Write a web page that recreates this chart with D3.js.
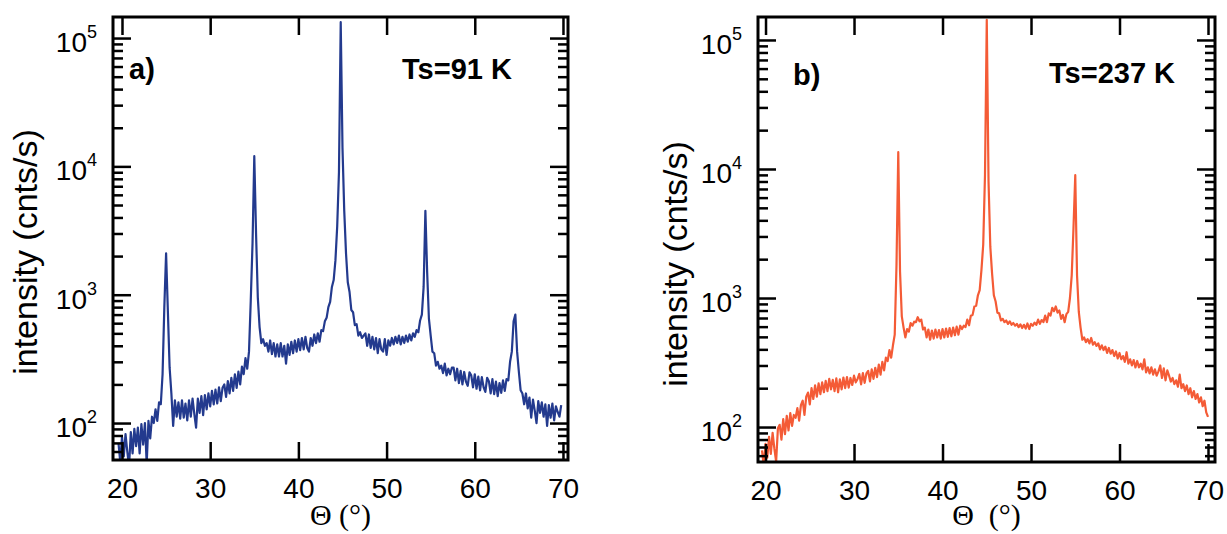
<!DOCTYPE html>
<html lang="en">
<head>
<meta charset="utf-8" />
<title>XRD scans</title>
<script src="https://cdn.jsdelivr.net/npm/d3@7"></script>
<style>
  body { margin: 0; background: #ffffff; }
  svg { display: block; background: #ffffff; }
  .tick line { stroke: #000; stroke-width: 2.5; }
  .domain { display: none; }
  .tick text { font-family: "Liberation Sans", Arial, sans-serif; font-size: 28px; fill: #000; }
  .frame { fill: none; stroke: #000; stroke-width: 3; }
  .ylab { font-family: "Liberation Sans", Arial, sans-serif; font-size: 28px; fill: #000; }
  .ytitle { font-family: "Liberation Sans", Arial, sans-serif; font-size: 34px; fill: #000; }
  .xtitle { font-family: "Liberation Serif", "Times New Roman", serif; font-size: 30px; fill: #000; }
  .tag { font-family: "Liberation Sans", Arial, sans-serif; font-size: 29px; font-weight: bold; fill: #000; }
</style>
</head>
<body>
<svg width="1227" height="534"></svg>
<script>

// scan grid (degrees)
var scanStart = 19.6, scanStep = 0.2;

// panel a, Ts = 91 K  (cnts/s, one value per scan step)
var intensityA = [
  70, 50, 78, 55, 82, 60, 46, 85, 58, 90,
  66, 92, 58, 98, 68, 100, 48, 104, 76, 112,
  100, 128, 104, 145, 140, 240, 800, 2100, 750, 270,
  170, 95, 150, 112, 145, 108, 150, 110, 142, 105,
  150, 112, 155, 118, 92, 155, 120, 162, 115, 165,
  128, 170, 135, 178, 140, 182, 142, 190, 148, 188,
  200, 160, 212, 170, 225, 178, 240, 188, 252, 200,
  275, 240, 320, 265, 360, 900, 2500, 12000, 3000, 950,
  560, 420, 450, 400, 420, 360, 440, 345, 420, 330,
  410, 330, 420, 330, 400, 290, 410, 340, 430, 350,
  440, 360, 450, 370, 460, 375, 470, 385, 360, 460,
  400, 490, 420, 500, 430, 530, 520, 620, 660, 800,
  880, 1150, 1300, 1850, 3400, 9000, 133000, 14000, 4500, 2100,
  1250, 1050, 760, 730, 580, 590, 480, 510, 460, 480,
  500, 400, 490, 385, 470, 375, 460, 350, 450, 375,
  360, 450, 340, 440, 400, 460, 410, 470, 420, 480,
  410, 470, 420, 480, 430, 490, 440, 500, 470, 530,
  510, 630, 700, 1150, 4500, 1500, 650, 480, 360, 350,
  280, 300, 265, 280, 245, 290, 235, 265, 240, 270,
  270, 215, 265, 205, 255, 200, 250, 210, 195, 248,
  235, 190, 240, 185, 230, 180, 228, 190, 175, 225,
  212, 170, 220, 168, 210, 162, 205, 172, 215, 178,
  220, 215, 300, 360, 620, 700, 360, 250, 180, 170,
  140, 170, 130, 158, 110, 152, 125, 100, 148, 120,
  145, 112, 140, 95, 138, 110, 142, 105, 135, 122,
  112, 138
];

// panel b, Ts = 237 K
var intensityB = [
  66, 50, 74, 58, 84, 62, 90, 68, 54, 98,
  104, 80, 115, 88, 122, 94, 128, 102, 124, 118,
  140, 112, 148, 160, 124, 172, 185, 150, 200, 165,
  210, 172, 218, 180, 222, 186, 228, 190, 236, 196,
  232, 190, 238, 186, 234, 196, 242, 200, 244, 202,
  240, 212, 250, 222, 236, 258, 214, 262, 220, 260,
  272, 226, 280, 236, 288, 244, 305, 255, 320, 275,
  345, 325, 395, 345, 430, 520, 1800, 13500, 1600, 720,
  590, 495, 575, 550, 640, 610, 655, 650, 710, 660,
  680, 570, 590, 495, 570, 475, 560, 485, 570, 495,
  565, 485, 575, 495, 580, 500, 585, 505, 590, 515,
  600, 520, 610, 575, 610, 595, 680, 615, 730, 740,
  860, 870, 1050, 1150, 1650, 2600, 9000, 143000, 8000, 2500,
  1550, 1050, 940, 770, 760, 670, 690, 650, 670, 630,
  660, 620, 640, 610, 630, 595, 625, 585, 620, 580,
  635, 575, 630, 610, 645, 620, 680, 630, 675, 650,
  730, 650, 760, 730, 840, 790, 860, 770, 800, 690,
  740, 650, 750, 780, 1000, 1500, 3500, 8950, 1500, 780,
  590, 475, 495, 455, 480, 445, 490, 435, 455, 425,
  445, 400, 430, 395, 420, 375, 410, 370, 395, 355,
  385, 340, 375, 335, 355, 320, 380, 310, 335, 300,
  330, 290, 325, 290, 310, 280, 335, 265, 290, 260,
  290, 255, 280, 250, 270, 300, 240, 285, 230, 275,
  250, 225, 240, 215, 230, 205, 255, 200, 215, 190,
  210, 180, 200, 170, 190, 165, 180, 155, 170, 145,
  160, 130, 120
];

var xTicks = [20, 30, 40, 50, 60, 70];
var decades = [100, 1000, 10000, 100000];
var panelTags = ["a)", "b)"];
var tempLabels = ["Ts=91 K", "Ts=237 K"];
var xTitles = ["\u0398 (\u00b0)", "\u0398\u00a0 (\u00b0)"];
var yTitle = "intensity (cnts/s)";
var colors = ["#233a8e", "#f45b36"];

var svg = d3.select("svg");

// layout of the two panels
var layouts = [
  { id: "a", left: 113, right: 568, top: 17, bottom: 460,
    xDomain: [18.98, 70.57], yDomain: [Math.pow(10, 1.712), Math.pow(10, 5.164)],
    tagX: 129, tagY: 79, tempX: 402, tempY: 79, yTitleX: 37, yTitleY: 252, xTitleY: 525 },
  { id: "b", left: 758, right: 1215, top: 17, bottom: 462,
    xDomain: [19.15, 70.79], yDomain: [Math.pow(10, 1.729), Math.pow(10, 5.178)],
    tagX: 793, tagY: 85, tempX: 1049, tempY: 83, yTitleX: 687, yTitleY: 264, xTitleY: 525 }
];

function drawPanel(k, values) {
  var L = layouts[k];
  var x = d3.scaleLinear().domain(L.xDomain).range([L.left, L.right]);
  var y = d3.scaleLog().domain(L.yDomain).range([L.bottom, L.top]);
  var minor = y.ticks().filter(function(v) { return decades.indexOf(v) < 0; });

  var g = svg.append("g");

  g.append("clipPath").attr("id", "clip-" + L.id)
    .append("rect")
    .attr("x", L.left).attr("y", L.top)
    .attr("width", L.right - L.left).attr("height", L.bottom - L.top);

  var line = d3.line()
    .x(function(d, i) { return x(scanStart + i * scanStep); })
    .y(function(d) { return y(d); });

  g.append("path")
    .datum(values)
    .attr("clip-path", "url(#clip-" + L.id + ")")
    .attr("fill", "none")
    .attr("stroke", colors[k])
    .attr("stroke-width", 2.2)
    .attr("stroke-linejoin", "round")
    .attr("d", line);

  // ticks on all four sides, pointing inwards
  g.append("g").attr("transform", "translate(" + L.left + ",0)")
    .call(d3.axisLeft(y).tickValues(decades).tickSize(-18).tickSizeOuter(0).tickFormat(""));
  g.append("g").attr("transform", "translate(" + L.left + ",0)")
    .call(d3.axisLeft(y).tickValues(minor).tickSize(-10).tickSizeOuter(0).tickFormat(""));
  g.append("g").attr("transform", "translate(" + L.right + ",0)")
    .call(d3.axisRight(y).tickValues(decades).tickSize(-18).tickSizeOuter(0).tickFormat(""));
  g.append("g").attr("transform", "translate(" + L.right + ",0)")
    .call(d3.axisRight(y).tickValues(minor).tickSize(-10).tickSizeOuter(0).tickFormat(""));
  g.append("g").attr("transform", "translate(0," + L.bottom + ")")
    .call(d3.axisBottom(x).tickValues(xTicks).tickSize(-18).tickSizeOuter(0).tickPadding(18).tickFormat(d3.format("d")));
  g.append("g").attr("transform", "translate(0," + L.top + ")")
    .call(d3.axisTop(x).tickValues(xTicks).tickSize(-18).tickSizeOuter(0).tickFormat(""));

  g.append("rect").attr("class", "frame")
    .attr("x", L.left).attr("y", L.top)
    .attr("width", L.right - L.left).attr("height", L.bottom - L.top);

  // 10^n labels
  var lab = g.selectAll(".ylab").data(decades).enter().append("text")
    .attr("class", "ylab")
    .attr("text-anchor", "end")
    .attr("x", L.left - 16)
    .attr("y", function(d) { return y(d) + 14; });
  lab.append("tspan").text("10");
  lab.append("tspan").attr("font-size", 18).attr("dy", -14)
    .text(function(d) { return Math.round(Math.log10(d)); });

  g.append("text").attr("class", "ytitle")
    .attr("text-anchor", "middle")
    .attr("transform", "translate(" + L.yTitleX + "," + L.yTitleY + ") rotate(-90)")
    .text(yTitle);

  g.append("text").attr("class", "xtitle")
    .attr("text-anchor", "middle")
    .attr("x", (L.left + L.right) / 2).attr("y", L.xTitleY)
    .text(xTitles[k]);

  g.append("text").attr("class", "tag")
    .attr("x", L.tagX).attr("y", L.tagY).text(panelTags[k]);
  g.append("text").attr("class", "tag")
    .attr("x", L.tempX).attr("y", L.tempY).text(tempLabels[k]);
}

drawPanel(0, intensityA);
drawPanel(1, intensityB);

</script>
</body>
</html>
